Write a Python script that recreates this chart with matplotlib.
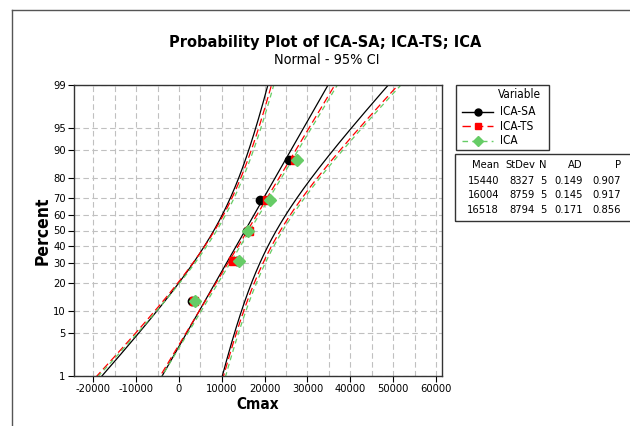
import numpy as np
import matplotlib.pyplot as plt
from matplotlib.lines import Line2D
from matplotlib.patches import Rectangle
from statistics import NormalDist

plt.rcParams["font.family"] = "DejaVu Sans"
plt.rcParams["font.stretch"] = "condensed"

# data
variables = ["ICA-SA", "ICA-TS", "ICA"]
ica_sa = [3100, 13500, 15800, 19000, 25800]
ica_ts = [3600, 12500, 16300, 20600, 27020]
ica = [3800, 14000, 16000, 21300, 27490]
means = [15440, 16004, 16518]
stdevs = [8327, 8759, 8794]
ns = [5, 5, 5]
ad_vals = [0.149, 0.145, 0.171]
p_vals = [0.907, 0.917, 0.856]

pct_ticks = [1, 5, 10, 20, 30, 40, 50, 60, 70, 80, 90, 95, 99]
x_ticks = list(range(-20000, 60001, 10000))

colors = ["black", "#ff0000", "#66cc66"]
markers = ["o", "s", "D"]
dashes = [None, (6, 3), (4, 3)]

nd = NormalDist()
zq = nd.inv_cdf

fig = plt.figure(figsize=(6.3, 4.26), dpi=100)
W, H = 630, 426
ax = fig.add_axes([74 / W, 1 - 376 / H, (442 - 74) / W, (376 - 85) / H])

z_curve = np.linspace(zq(0.003), zq(0.997), 300)
for k, vals in enumerate([ica_sa, ica_ts, ica]):
    n = len(vals)
    xs = np.sort(vals)
    pp = [(i + 1 - 0.3) / (n + 0.4) for i in range(n)]
    zs = [zq(p) for p in pp]
    mu, sd = means[k], stdevs[k]
    fit = mu + z_curve * sd
    half = 1.96 * sd * np.sqrt(1 / n + z_curve ** 2 / (2 * n))
    kw = dict(color=colors[k], lw=0.9)
    for yy in (fit, fit - half, fit + half):
        ln, = ax.plot(yy, z_curve, **kw)
        if dashes[k]:
            ln.set_dashes(dashes[k])
    ax.plot(xs, zs, ls="none", marker=markers[k], color=colors[k],
            ms=6 if k < 2 else 6.5, mec=colors[k], zorder=5)

ax.set_xlim(-24500, 61400)
ax.set_ylim(zq(0.01), zq(0.99))
ax.set_yticks([zq(p / 100) for p in pct_ticks])
ax.set_yticklabels([str(p) for p in pct_ticks])
ax.set_xticks(x_ticks)
ax.set_xticklabels([str(v) for v in x_ticks])
ax.tick_params(labelsize=8, length=4, width=0.8, direction="out", pad=2)

for v in range(-20000, 60001, 5000):
    ax.axvline(v, color="#c0c0c0", lw=0.8, dashes=(5, 3), zorder=0)
for p in pct_ticks:
    ax.axhline(zq(p / 100), color="#c0c0c0", lw=0.8, dashes=(5, 3), zorder=0)

for s in ax.spines.values():
    s.set_linewidth(1.0)
    s.set_color("#333333")

ax.set_xlabel("Cmax", fontsize=11, fontweight="bold", labelpad=2)
ax.set_ylabel("Percent", fontsize=12.5, fontweight="bold", labelpad=1)

fig.text(325 / W, 1 - 42 / H, "Probability Plot of ICA-SA; ICA-TS; ICA",
         ha="center", va="center", fontsize=11.7, fontweight="bold")
fig.text(327 / W, 1 - 60 / H, "Normal - 95% CI", ha="center", va="center",
         fontsize=10.4)

# outer frame
fig.add_artist(Line2D([12 / W, 12 / W], [0, 1 - 10 / H], color="#555555", lw=1))
fig.add_artist(Line2D([12 / W, 1], [1 - 10 / H, 1 - 10 / H], color="#555555", lw=1))

# legend
fig.add_artist(Rectangle((456 / W, 1 - 150 / H), (549 - 456) / W, (150 - 85) / H,
                         transform=fig.transFigure, fill=False, ec="#333333", lw=1))
fig.text(519 / W, 1 - 95 / H, "Variable", ha="center", va="center", fontsize=8.5)
for k, name in enumerate(variables):
    yy = 1 - (111.5 + k * 14.7) / H
    ln = Line2D([462 / W, 477.5 / W, 493 / W], [yy, yy, yy], color=colors[k],
                lw=1, marker=markers[k], markevery=[1], ms=5 if k < 2 else 5.5)
    if dashes[k]:
        ln.set_dashes(dashes[k])
    fig.add_artist(ln)
    fig.text(500 / W, yy, name, ha="left", va="center", fontsize=8.5)

# statistics table
fig.add_artist(Rectangle((455 / W, 1 - 221 / H), (640 - 455) / W, (221 - 154) / H,
                         transform=fig.transFigure, fill=False, ec="#333333", lw=1,
                         clip_on=False))
col_x = [499, 535, 547, 583, 621]
heads = ["Mean", "StDev", "N", "AD", "P"]
for cx, h in zip(col_x, heads):
    fig.text(cx / W, 1 - 165 / H, h, ha="right", va="center", fontsize=8)
for k in range(3):
    yy = 1 - (180.5 + k * 14.7) / H
    row = [str(means[k]), str(stdevs[k]), str(ns[k]),
           f"{ad_vals[k]:.3f}", f"{p_vals[k]:.3f}"]
    for cx, t in zip(col_x, row):
        fig.text(cx / W, yy, t, ha="right", va="center", fontsize=8)

fig.savefig("out.png", dpi=100)
